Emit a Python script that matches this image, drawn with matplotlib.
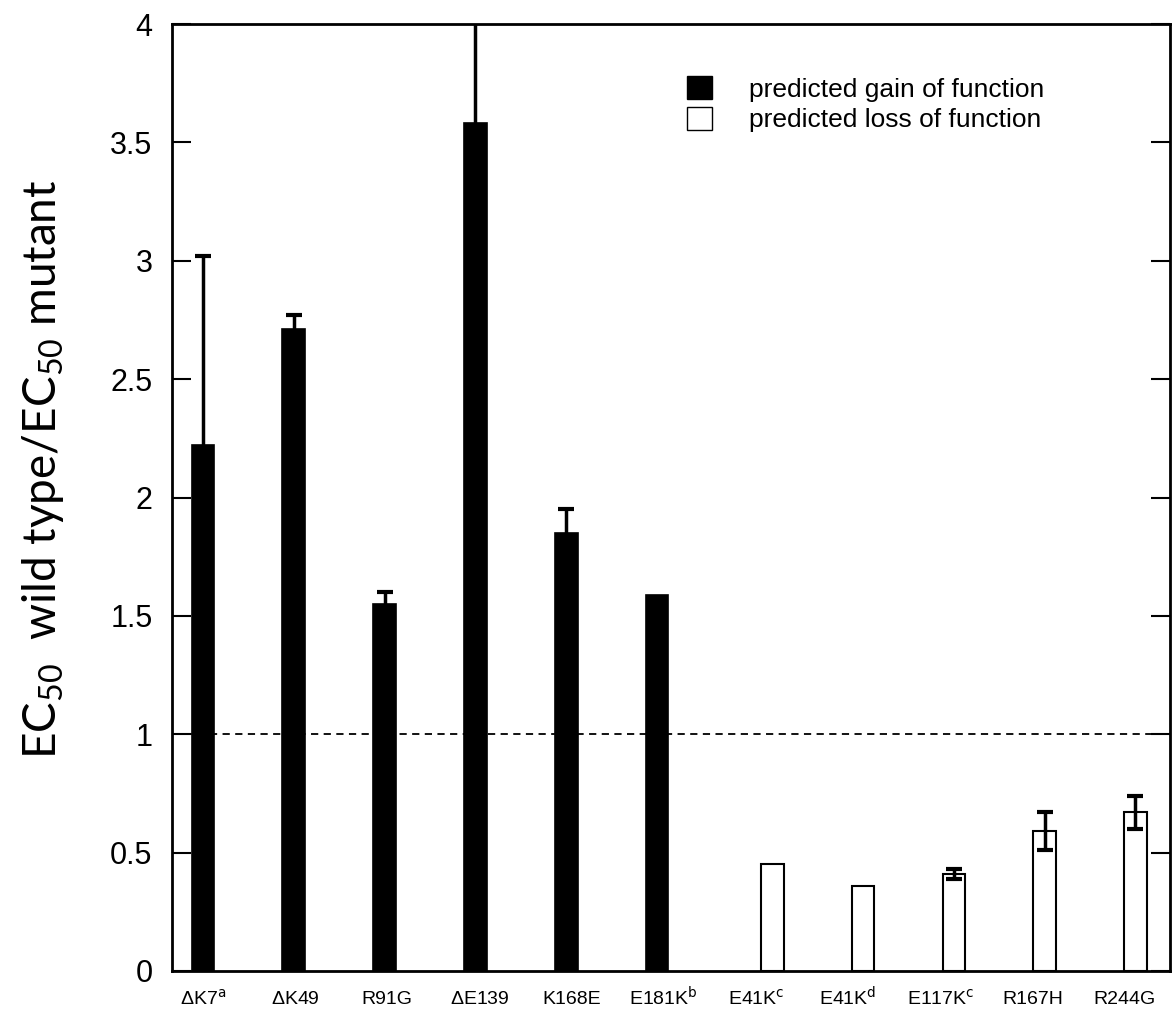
import numpy as np
import matplotlib
matplotlib.use("Agg")
import matplotlib.pyplot as plt
from matplotlib.patches import Patch

# values
gain_labels = ["$\\Delta$K7$^{\\rm a}$", "$\\Delta$K49", "R91G", "$\\Delta$E139", "K168E", "E181K$^{\\rm b}$"]
gain_values = [2.22, 2.71, 1.55, 3.58, 1.85, 1.59]
gain_err = [0.80, 0.06, 0.05, 0.60, 0.10, 0.0]

loss_labels = ["E41K$^{\\rm c}$", "E41K$^{\\rm d}$", "E117K$^{\\rm c}$", "R167H", "R244G"]
loss_values = [0.45, 0.36, 0.41, 0.59, 0.67]
loss_err = [0.0, 0.0, 0.02, 0.08, 0.07]

plt.rcParams['font.family'] = ['Liberation Sans', 'DejaVu Sans']
plt.rcParams['mathtext.default'] = 'regular'

fig = plt.figure(figsize=(11.74, 10.27), dpi=100)
ax = fig.add_axes([172 / 1174, 56 / 1027, 998 / 1174, 947 / 1027])

gain_x = np.arange(len(gain_values))
loss_x = len(gain_values) + 0.27 + np.arange(len(loss_values))
width = 0.25

ax.bar(gain_x, gain_values, width, color='black', edgecolor='black', linewidth=1.2, zorder=2)
ax.bar(loss_x, loss_values, width, color='white', edgecolor='black', linewidth=1.5, zorder=2)

# error bars (only where there is one)
for xs, vals, errs in [(gain_x, gain_values, gain_err), (loss_x, loss_values, loss_err)]:
    for x, v, e in zip(xs, vals, errs):
        if e > 0:
            ax.errorbar(x, v, yerr=e, fmt='none', ecolor='black', elinewidth=2.5,
                        capsize=6, capthick=3, zorder=3)

ax.axhline(1, color='black', linestyle=(0, (4, 3)), linewidth=1.3, zorder=1)

ax.set_xlim(-0.341, 10.65)
ax.set_ylim(0, 4)
ax.set_yticks([0, 0.5, 1, 1.5, 2, 2.5, 3, 3.5, 4])
ax.set_yticklabels(['0', '0.5', '1', '1.5', '2', '2.5', '3', '3.5', '4'])

label_x = np.arange(len(gain_labels) + len(loss_labels)) * 1.015
ax.set_xticks(label_x)
ax.set_xticklabels(gain_labels + loss_labels, fontsize=14)
# keep all labels on one baseline (superscripts would push them down otherwise)
for lbl in ax.get_xticklabels():
    lbl.set_verticalalignment('baseline')
ax.tick_params(axis='x', length=0, pad=24)
ax.tick_params(axis='y', direction='in', length=14, width=1.5, labelsize=22, pad=14,
               right=True)

for s in ax.spines.values():
    s.set_linewidth(2)

ax.set_ylabel("EC$_{50}$  wild type/EC$_{50}$ mutant", fontsize=33, family=['Lato', 'DejaVu Sans'])
ax.yaxis.set_label_coords(-0.106, 0.53)

handles = [Patch(facecolor='black', edgecolor='black'),
           Patch(facecolor='white', edgecolor='black')]
ax.legend(handles, ["predicted gain of function", "predicted loss of function"],
          loc='upper left', bbox_to_anchor=(0.492, 0.970), frameon=False, fontsize=19,
          handlelength=0.95, handleheight=0.95, handletextpad=1.4, labelspacing=0.2)

fig.savefig("out.png", dpi=100)
